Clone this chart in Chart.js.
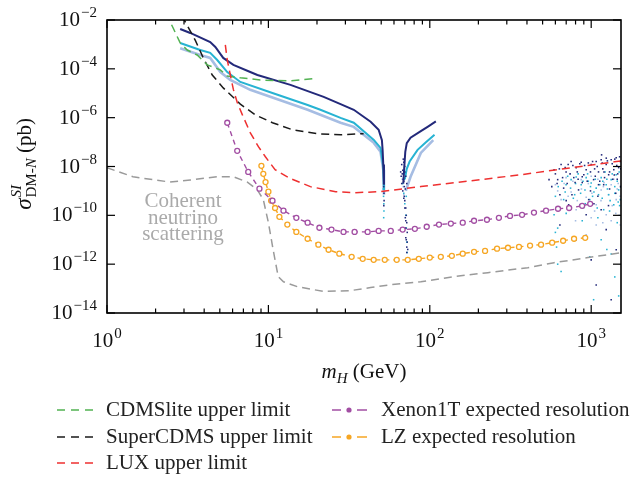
<!DOCTYPE html>
<html>
<head>
<meta charset="utf-8">
<script src="https://cdn.jsdelivr.net/npm/chart.js@4.4.0/dist/chart.umd.min.js"></script>
<style>
  html, body { margin: 0; padding: 0; background: #fff; }
  #wrap { width: 633px; height: 477px; }
</style>
</head>
<body>
<div id="wrap"><canvas id="chart" width="633" height="477"></canvas></div>
<script>
// axis ranges and tick labels (exponents of ten)
const xMin = 1, xMax = 1530;
const yMin = 1e-14, yMax = 1e-2;
const xTickExps = [0, 1, 2, 3];
const yTickExps = [-2, -4, -6, -8, -10, -12, -14];

// experimental limits (mass in GeV, cross section in pb)
const cdmsliteM = [2.35, 2.43, 2.57, 2.84, 3.14, 3.62, 4.18, 5.03, 5.56, 6.7, 8.9, 13.7, 18.8];
const cdmsliteS = [2e-2, 1e-2, 4.7e-3, 1.15e-3, 5.9e-4, 3.7e-4, 1.45e-4, 9.1e-5, 5.1e-5, 4.3e-5, 3.5e-5, 3.2e-5, 3.9e-5];

const supercdmsM = [2.95, 3.01, 3.52, 3.95, 4.49, 5.25, 6.7, 8.3, 10.6, 14.1, 20.1, 28, 38.9];
const supercdmsS = [1.6e-2, 1e-2, 1.5e-3, 2.8e-4, 5.6e-5, 1.66e-5, 3.6e-6, 1.3e-6, 6.2e-7, 3.2e-7, 2.2e-7, 2e-7, 2.2e-7];

const luxM = [5.41, 5.56, 5.81, 6.07, 6.42, 6.9, 7.73, 8.67, 9.58, 11.0, 13.7, 18.2, 26.1, 34.7, 49.6, 88, 180, 367, 751, 1390, 1535];
const luxS = [9.5e-4, 2.3e-4, 5.6e-5, 1.4e-5, 4.1e-6, 1.3e-6, 2.4e-7, 6.5e-8, 2.5e-8, 7.4e-9, 3.2e-9, 1.5e-9, 9.3e-10, 8.5e-10, 9.3e-10, 1.5e-9, 2.6e-9, 4.6e-9, 8.9e-9, 1.55e-8, 1.7e-8];

const neutrinoM = [1, 1.45, 2.46, 3.28, 4.82, 6.07, 7.41, 8.55, 9.3, 10.0, 10.7, 11.5, 12.4, 15.1, 22, 32.4, 43, 57.3, 88, 141, 229, 405, 589, 955, 1535];
const neutrinoS = [8.9e-9, 3.8e-9, 2.3e-9, 2.8e-9, 3.8e-9, 3.8e-9, 2.3e-9, 1.1e-9, 4.4e-10, 5e-11, 3.9e-12, 3.1e-13, 1.9e-13, 1.2e-13, 7.6e-14, 8.3e-14, 1.1e-13, 1.45e-13, 1.9e-13, 3.1e-13, 4.5e-13, 7.2e-13, 1.15e-12, 1.86e-12, 2.95e-12];

// expected resolutions
const xenonM = [5.56, 6.41, 7.5, 8.8, 10.6, 12.4, 14.9, 17.5, 20.7, 24.6, 29.2, 34.2, 41.2, 48.2, 57.3, 67.9, 80.8, 95.7, 114, 135, 160, 188, 226, 268, 314, 373, 442, 525, 623, 730, 879, 986];
const xenonS = [6.2e-7, 4.4e-8, 6.0e-9, 1.23e-9, 4.0e-10, 1.55e-10, 7.9e-11, 5.0e-11, 3.1e-11, 2.6e-11, 2.1e-11, 2.1e-11, 2.1e-11, 2.3e-11, 2.3e-11, 2.6e-11, 2.8e-11, 3.4e-11, 4.2e-11, 4.6e-11, 5.0e-11, 6.0e-11, 6.6e-11, 7.9e-11, 9.5e-11, 1.05e-10, 1.3e-10, 1.55e-10, 1.86e-10, 2.0e-10, 2.45e-10, 2.95e-10];

const lzM = [9.05, 9.3, 9.6, 10.0, 10.4, 11.0, 11.7, 13.1, 14.9, 17.5, 20.4, 23.6, 27.5, 32.8, 38.4, 44.9, 52.6, 62.4, 73, 85.5, 100, 117, 137, 160, 188, 220, 261, 305, 357, 418, 489, 573, 670, 783, 918];
const lzS = [1.07e-8, 5.0e-9, 2.3e-9, 9.3e-10, 4.0e-10, 2.0e-10, 8.7e-11, 4.2e-11, 2.1e-11, 1.1e-11, 6.3e-12, 3.9e-12, 2.7e-12, 2.0e-12, 1.66e-12, 1.5e-12, 1.5e-12, 1.5e-12, 1.5e-12, 1.66e-12, 1.86e-12, 2.0e-12, 2.2e-12, 2.7e-12, 3.2e-12, 3.5e-12, 4.3e-12, 4.7e-12, 5.1e-12, 5.8e-12, 6.3e-12, 7.6e-12, 9.1e-12, 1.1e-11, 1.2e-11];

// model predictions, both sides of the resonance
const navyLeftM = [2.84, 3.28, 4.36, 4.69, 5.25, 6.07, 7.72, 8.55, 13.7, 22, 28, 33.8, 43, 48.2, 50.5, 51, 51.5, 52];
const navyLeftS = [4.3e-3, 2.95e-3, 1.26e-3, 7.9e-4, 2.8e-4, 1.45e-4, 7.4e-5, 5.6e-5, 2.2e-5, 7.1e-6, 3.6e-6, 2.1e-6, 6.8e-7, 3.2e-7, 1.2e-7, 4.8e-8, 1.2e-8, 1.8e-9];
const navyRightM = [68.5, 69.5, 70.5, 72, 76, 88, 98, 109];
const navyRightS = [2e-9, 1e-8, 4e-8, 9e-8, 1.5e-7, 2.8e-7, 4.4e-7, 7e-7];

const cyanLeftM = [2.84, 3.78, 4.36, 4.82, 5.56, 6.7, 10.7, 17.5, 21, 28, 33.8, 45, 49.5, 51.5, 52];
const cyanLeftS = [1.15e-3, 5.9e-4, 4.5e-4, 2.3e-4, 7.4e-5, 2.9e-5, 1.0e-5, 3.3e-6, 2.1e-6, 9.8e-7, 6.2e-7, 1.23e-7, 5.8e-8, 9.8e-9, 1.1e-9];
const cyanRightM = [70, 72, 75, 84, 95, 107];
const cyanRightS = [3e-9, 8e-9, 1.6e-8, 4.8e-8, 1e-7, 2e-7];

const lightLeftM = [2.84, 3.78, 4.36, 5.04, 5.8, 7.72, 10.7, 17.5, 28, 33.8, 45, 49.5, 51.5, 52];
const lightLeftS = [7e-4, 3.7e-4, 2.8e-4, 7.4e-5, 3.5e-5, 1.38e-5, 6.5e-6, 2.1e-6, 6.2e-7, 4.2e-7, 9.3e-8, 4e-8, 7.4e-9, 7e-10];
const lightRightM = [71, 76, 88, 105];
const lightRightS = [1e-9, 3.8e-9, 3.6e-8, 1.2e-7];

// scattered scan points [mass, cross section]
const navyDots = [
  [51.8, 1.5e-9], [52, 8e-10], [52.1, 4e-10], [51.9, 2.5e-10], [67, 2e-9], [68, 1e-9], [69, 5e-10], [70, 2e-10],
  [70.5, 8e-11], [71, 3e-11], [71.5, 1e-11], [72, 5e-12], [69.5, 1.5e-9], [68.5, 3e-9], [70, 6e-9], [66.5, 4e-9],
  [71, 1.2e-11], [72, 3e-12], [69, 2.5e-9], [70.5, 1.2e-9], [66, 6e-9], [67.5, 5e-9], [68, 7e-9], [69, 1.5e-8],
  [70, 1e-8], [71, 4e-9], [72, 2e-9], [69.5, 6e-10], [70, 4e-10], [71, 2e-10], [71.5, 1e-10], [72, 5e-11],
  [72.5, 2e-11], [71, 6e-11], [72.5, 8e-12], [73, 4e-12], [67, 1.2e-8], [68.5, 2e-8],
  [548, 2.9e-9], [589, 7.4e-9], [620, 2.9e-9], [640, 7e-10], [651, 1.2e-8], [675, 1.3e-9], [699, 6e-9], [725, 2.7e-10],
  [751, 1.6e-8], [780, 3.5e-9], [807, 9e-9], [835, 1.1e-9], [867, 1.5e-8], [900, 4.6e-9], [931, 7.4e-9], [965, 4.4e-10],
  [1000, 1.2e-8], [1035, 2.9e-9], [1074, 1.6e-8], [1110, 6e-9], [1153, 1.9e-8], [1195, 1.8e-9], [1239, 1.2e-8],
  [1283, 4.6e-9], [1330, 1.9e-8], [1380, 7.4e-9], [1429, 2.3e-8], [1480, 9e-9], [1514, 1.6e-8], [640, 4e-11],
  [807, 1e-11], [1000, 1.5e-12], [1074, 1.4e-13], [1239, 2.6e-11], [1330, 3.5e-14], [1429, 3.9e-12], [1153, 1.7e-10],
  [931, 1.05e-10], [1300, 1.2e-9], [1450, 3e-9], [1050, 8e-9], [880, 2.2e-9], [720, 1.2e-8], [1200, 6e-9],
  [600, 5e-9], [615, 2e-9], [635, 8e-9], [665, 3.5e-9], [690, 9e-9], [710, 2e-9], [740, 5e-9], [770, 1.1e-8],
  [795, 2.2e-9], [820, 6e-9], [850, 1.3e-8], [880, 3.8e-9], [910, 1.1e-8], [945, 2.5e-9], [990, 6e-9], [1020, 1.6e-8],
  [1060, 4e-9], [1090, 1e-8], [1130, 2.5e-9], [1170, 1.4e-8], [1210, 3.5e-9], [1260, 1.7e-8], [1300, 6e-9],
  [1350, 1.3e-8], [1400, 2e-8], [1460, 5e-9], [1500, 2.5e-8], [1525, 8e-9], [1360, 3e-9], [1180, 8e-9], [960, 1.4e-8],
  [830, 3e-9], [700, 4e-10], [1100, 6e-10], [1420, 8e-10], [1280, 2.5e-10], [990, 1e-9], [760, 7e-10], [1520, 1.5e-9],
  [1040, 3e-10], [1160, 3e-8], [1440, 1.1e-8], [1240, 2.2e-8], [570, 1.5e-9], [1390, 4.5e-9], [1110, 1.8e-9]
];
const cyanDots = [
  [51.5, 1.2e-9], [51.7, 6e-10], [51.9, 3e-10], [52, 1.5e-10], [51.8, 8e-11], [68, 2e-9], [69, 8e-10], [70, 3e-10],
  [71, 1e-10], [71.5, 3e-11], [72, 8e-12], [72.5, 3e-12], [70.5, 5e-9], [69.5, 3e-9], [71.5, 6e-10],
  [589, 1.05e-10], [620, 1e-12], [651, 5e-13], [675, 4.4e-10], [699, 1.8e-9], [738, 1.7e-10], [751, 2.9e-9],
  [790, 7e-10], [807, 3.7e-9], [850, 2.7e-10], [867, 1.8e-9], [915, 1.1e-9], [931, 3.5e-9], [980, 4.4e-10],
  [1000, 2.1e-9], [1035, 3.5e-14], [1074, 1.3e-9], [1110, 7e-10], [1153, 3.5e-9], [1195, 1.7e-10], [1239, 1.8e-9],
  [1283, 7e-10], [1330, 2.9e-9], [1380, 2.7e-10], [1429, 4.6e-9], [1480, 1.1e-9], [1514, 4.4e-10], [1153, 1e-11],
  [1330, 2.6e-12], [1400, 1.5e-9], [1250, 3e-9], [960, 2.5e-9],
  [600, 6e-10], [625, 1.5e-9], [660, 2.5e-9], [690, 9e-10], [715, 4e-9], [745, 1.3e-9], [775, 5e-10], [800, 2e-9],
  [830, 5e-9], [860, 8e-10], [890, 2.5e-9], [920, 3e-10], [950, 5e-9], [990, 1.5e-9], [1020, 6e-10], [1060, 3e-9],
  [1090, 2e-10], [1130, 1.8e-9], [1170, 5e-10], [1220, 6e-9], [1260, 1.2e-9], [1310, 4e-10], [1350, 5e-9],
  [1400, 8e-10], [1450, 2.5e-9], [1490, 6e-9], [1525, 1.5e-9], [1500, 2.5e-10], [1300, 1.5e-10], [1100, 8e-11],
  [880, 6e-11], [700, 1.2e-10], [620, 3e-11], [1450, 5e-11], [1250, 4e-12], [980, 2e-12], [1400, 3e-13], [1480, 5e-14],
  [600, 2e-11], [610, 5e-12], [1180, 2.5e-9], [1040, 9e-10], [1470, 3.5e-10]
];
const lightDots = [
  [51.5, 2e-9], [51.8, 8e-10], [67.5, 3e-9], [68.5, 1.5e-9], [69, 7e-10],
  [600, 1.8e-9], [651, 4.4e-10], [699, 3.5e-9], [751, 9e-10], [807, 1.7e-10], [867, 2.9e-9], [931, 5.5e-10],
  [1000, 4e-9], [1074, 2.7e-10], [1153, 1.1e-9], [1239, 1.05e-10], [1330, 1.8e-9], [1429, 4.4e-10], [1514, 4e-11],
  [1074, 4e-11], [931, 1.6e-11], [1200, 2.2e-9], [1450, 1.2e-9],
  [620, 1e-9], [680, 2e-9], [720, 6e-10], [770, 2.5e-9], [820, 4e-10], [870, 1.2e-9], [900, 2e-10], [960, 2e-9],
  [1010, 8e-10], [1050, 1.5e-10], [1100, 3e-9], [1150, 4e-10], [1190, 1.5e-9], [1280, 7e-10], [1350, 2.5e-10],
  [1380, 3e-9], [1420, 1.2e-10], [1470, 2e-9], [1510, 6e-10], [1490, 1e-10], [1330, 6e-11], [1180, 5e-11],
  [1000, 8e-11], [800, 6e-11]
];

const navy = '#23297a', cyan = '#27b3d3', light = '#a6bde3';
const green = '#52b252', black = '#1a1a1a', red = '#ee3030', purple = '#a24ea3', orange = '#f6a623', grey = '#9a9a9a';
const serif = '"Liberation Serif", "DejaVu Serif", serif';

const pts = (m, s) => m.map((v, i) => ({ x: v, y: s[i] }));
const dots = arr => arr.map(p => ({ x: p[0], y: p[1] }));

const limit = (m, s, color) => ({
  data: pts(m, s), borderColor: color, borderWidth: 1.5, borderDash: [8, 5], pointRadius: 0, fill: false
});
const curve = (m, s, color, w) => ({
  data: pts(m, s), borderColor: color, borderWidth: w, pointRadius: 0, fill: false
});
const cloud = (arr, color) => ({
  data: dots(arr), showLine: false, pointStyle: 'rect', pointRadius: 1.1, borderWidth: 0,
  backgroundColor: color, pointBackgroundColor: color
});

function pow10(ctx, exp, x, yBase, align) {
  const sup = exp < 0 ? '\u2212' + (-exp) : String(exp);
  ctx.font = '21px ' + serif;
  const wb = ctx.measureText('10').width;
  ctx.font = '15px ' + serif;
  const ws = ctx.measureText(sup).width;
  const w = wb + ws + 1;
  const x0 = align === 'right' ? x - w : x - w / 2;
  ctx.textAlign = 'left';
  ctx.textBaseline = 'alphabetic';
  ctx.font = '21px ' + serif;
  ctx.fillText('10', x0, yBase);
  ctx.font = '15px ' + serif;
  ctx.fillText(sup, x0 + wb + 1, yBase - 9);
}

const decor = {
  id: 'decor',
  afterDatasetsDraw(chart) {
    const { ctx, chartArea: a } = chart;
    const x = chart.scales.x, y = chart.scales.y;
    const seg = (x1, y1, x2, y2) => { ctx.beginPath(); ctx.moveTo(x1, y1); ctx.lineTo(x2, y2); ctx.stroke(); };
    ctx.save();
    ctx.strokeStyle = '#000';
    ctx.fillStyle = '#111';
    ctx.lineWidth = 1.6;
    ctx.strokeRect(a.left, a.top, a.right - a.left, a.bottom - a.top);

    // x ticks, top and bottom, pointing in
    ctx.lineWidth = 1.2;
    xTickExps.forEach(e => {
      for (let k = 1; k <= 9; k++) {
        const v = k * Math.pow(10, e);
        if (v > xMax) break;
        const px = x.getPixelForValue(v);
        const len = k === 1 ? 8 : 4.5;
        seg(px, a.bottom, px, a.bottom - len);
        seg(px, a.top, px, a.top + len);
      }
      pow10(ctx, e, x.getPixelForValue(Math.pow(10, e)), 347, 'center');
    });
    // y ticks, left and right
    yTickExps.forEach(e => {
      const py = y.getPixelForValue(Math.pow(10, e));
      seg(a.left, py, a.left + 8, py);
      seg(a.right, py, a.right - 8, py);
      pow10(ctx, e, a.left - 10, py + 6, 'right');
    });

    // x title: m_H (GeV)
    ctx.textBaseline = 'alphabetic';
    ctx.textAlign = 'left';
    ctx.font = 'italic 21px ' + serif;
    const wm = ctx.measureText('m').width;
    ctx.font = 'italic 15px ' + serif;
    const wh = ctx.measureText('H').width;
    ctx.font = '21px ' + serif;
    const wg = ctx.measureText(' (GeV)').width;
    let tx = 364 - (wm + wh + wg) / 2;
    ctx.font = 'italic 21px ' + serif; ctx.fillText('m', tx, 378); tx += wm;
    ctx.font = 'italic 15px ' + serif; ctx.fillText('H', tx, 383); tx += wh;
    ctx.font = '21px ' + serif; ctx.fillText(' (GeV)', tx, 378);

    // y title: sigma^SI_DM-N (pb)
    ctx.save();
    ctx.translate(31, 164);
    ctx.rotate(-Math.PI / 2);
    ctx.font = 'italic 23px ' + serif;
    const wsig = ctx.measureText('\u03c3').width;
    ctx.font = 'italic 15px ' + serif;
    const wsi = ctx.measureText('SI').width;
    const wn = ctx.measureText('N').width;
    ctx.font = '15px ' + serif;
    const wdm = ctx.measureText('DM-').width;
    ctx.font = '21px ' + serif;
    const wpb = ctx.measureText(' (pb)').width;
    const wsub = Math.max(wsi, wdm + wn);
    let ty = -(wsig + 1 + wsub + wpb) / 2;
    ctx.font = 'italic 23px ' + serif; ctx.fillText('\u03c3', ty, 0); ty += wsig + 1;
    ctx.font = 'italic 15px ' + serif; ctx.fillText('SI', ty, -10);
    ctx.font = '15px ' + serif; ctx.fillText('DM-', ty, 5);
    ctx.font = 'italic 15px ' + serif; ctx.fillText('N', ty + wdm, 5);
    ty += wsub;
    ctx.font = '21px ' + serif; ctx.fillText(' (pb)', ty, 0);
    ctx.restore();

    // annotation
    ctx.fillStyle = '#aaaaaa';
    ctx.textAlign = 'center';
    ctx.font = '21px ' + serif;
    ctx.fillText('Coherent', 183, 207);
    ctx.fillText('neutrino', 183, 224);
    ctx.fillText('scattering', 183, 240);

    // legend
    const rowsLeft = [[green, 'CDMSlite upper limit'], [black, 'SuperCDMS upper limit'], [red, 'LUX upper limit']];
    const rowsRight = [[purple, 'Xenon1T expected resolution'], [orange, 'LZ expected resolution']];
    const rowY = [410, 437, 463];
    ctx.textAlign = 'left';
    ctx.textBaseline = 'middle';
    ctx.font = '21px ' + serif;
    ctx.lineWidth = 1.5;
    rowsLeft.forEach((r, i) => {
      ctx.strokeStyle = r[0];
      ctx.setLineDash([8, 6]);
      seg(57, rowY[i], 94, rowY[i]);
      ctx.setLineDash([]);
      ctx.fillStyle = '#222';
      ctx.fillText(r[1], 106, rowY[i]);
    });
    rowsRight.forEach((r, i) => {
      ctx.strokeStyle = r[0];
      seg(332, rowY[i], 341, rowY[i]);
      seg(357, rowY[i], 367, rowY[i]);
      ctx.fillStyle = r[0];
      ctx.beginPath(); ctx.arc(349, rowY[i], 2.6, 0, Math.PI * 2); ctx.fill();
      ctx.fillStyle = '#222';
      ctx.fillText(r[1], 381, rowY[i]);
    });
    ctx.restore();
  }
};

new Chart(document.getElementById('chart'), {
  type: 'line',
  data: {
    datasets: [
      limit(luxM, luxS, red),
      limit(cdmsliteM, cdmsliteS, green),
      limit(supercdmsM, supercdmsS, black),
      {
        data: pts(xenonM, xenonS), borderColor: purple, borderWidth: 1.4, borderDash: [5, 4],
        pointRadius: 2.5, pointBorderWidth: 1.3, pointBackgroundColor: '#fff', pointBorderColor: purple, fill: false
      },
      {
        data: pts(lzM, lzS), borderColor: orange, borderWidth: 1.4, borderDash: [5, 4],
        pointRadius: 2.5, pointBorderWidth: 1.3, pointBackgroundColor: '#fff', pointBorderColor: orange, fill: false
      },
      limit(neutrinoM, neutrinoS, grey),
      curve(navyLeftM, navyLeftS, navy, 2),
      curve(navyRightM, navyRightS, navy, 2),
      cloud(navyDots, navy),
      curve(cyanLeftM, cyanLeftS, cyan, 2),
      curve(cyanRightM, cyanRightS, cyan, 2),
      cloud(cyanDots, cyan),
      curve(lightLeftM, lightLeftS, light, 2.6),
      curve(lightRightM, lightRightS, light, 2.6),
      cloud(lightDots, light)
    ]
  },
  options: {
    responsive: false,
    animation: false,
    layout: { padding: { left: 107, right: 12, top: 20, bottom: 164 } },
    plugins: { legend: { display: false }, tooltip: { enabled: false } },
    elements: { line: { tension: 0 } },
    scales: {
      x: { type: 'logarithmic', min: xMin, max: xMax, display: false },
      y: { type: 'logarithmic', min: yMin, max: yMax, display: false }
    }
  },
  plugins: [decor]
});
</script>
</body>
</html>
